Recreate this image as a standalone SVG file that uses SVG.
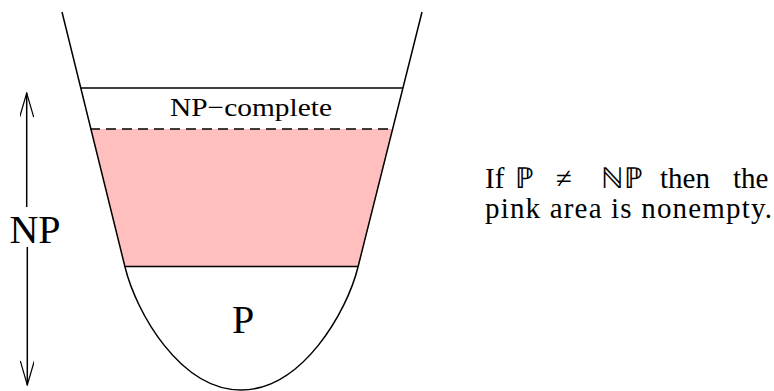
<svg xmlns="http://www.w3.org/2000/svg" width="774" height="391" viewBox="0 0 774 391">
<defs>
<style>
.ln{fill:none;stroke:#000;stroke-width:1.5}
.tx{font-family:'Liberation Serif','Times New Roman',serif;fill:#000}
</style>
<marker id="open" viewBox="0 0 26 14" refX="25" refY="7" markerWidth="26" markerHeight="14" markerUnits="userSpaceOnUse" orient="auto-start-reverse">
<path d="M1,0 L25,7 L1,14" fill="none" stroke="#000" stroke-width="1.2"/>
</marker>
</defs>
<rect width="774" height="391" fill="#fff"/>
<g id="pink-region">
<polygon points="91,129 392.6,129 358,266.5 125,266.5" fill="#ffbfbf"/>
</g>
<g id="bowl">
<path class="ln" d="M62,12 L125,267 C136,312 180,390 241,390 C302,390 347,312 358,267 L422,12"/>
</g>
<g id="np-complete">
<line class="ln" x1="80.8" y1="88" x2="402.9" y2="88"/>
<text class="tx" x="170" y="116" font-size="26" textLength="162" lengthAdjust="spacingAndGlyphs">NP−complete</text>
</g>
<g id="boundary">
<line class="ln" x1="90" y1="129" x2="394" y2="129" stroke-dasharray="10,6"/>
<line class="ln" x1="125" y1="266.5" x2="358" y2="266.5"/>
</g>
<g id="p-class">
<text class="tx" x="243" y="333" font-size="40" text-anchor="middle">P</text>
</g>
<g id="np-label">
<text class="tx" x="35" y="243" font-size="40" text-anchor="middle">NP</text>
</g>
<g id="connectors">
<line class="ln" x1="26.7" y1="93" x2="26.7" y2="207" stroke-width="1.2" marker-start="url(#open)"/>
<line class="ln" x1="27.3" y1="247" x2="27.3" y2="385" stroke-width="1.2" marker-end="url(#open)"/>
</g>
<g id="caption">
<text class="tx" font-size="29" y="188"><tspan x="485">If</tspan><tspan x="515">ℙ</tspan><tspan x="556">≠</tspan><tspan x="601">ℕℙ</tspan><tspan x="660">then</tspan><tspan x="733">the</tspan></text>
<text class="tx" font-size="29" x="485" y="218" textLength="287" lengthAdjust="spacing">pink area is nonempty.</text>
</g>
</svg>
